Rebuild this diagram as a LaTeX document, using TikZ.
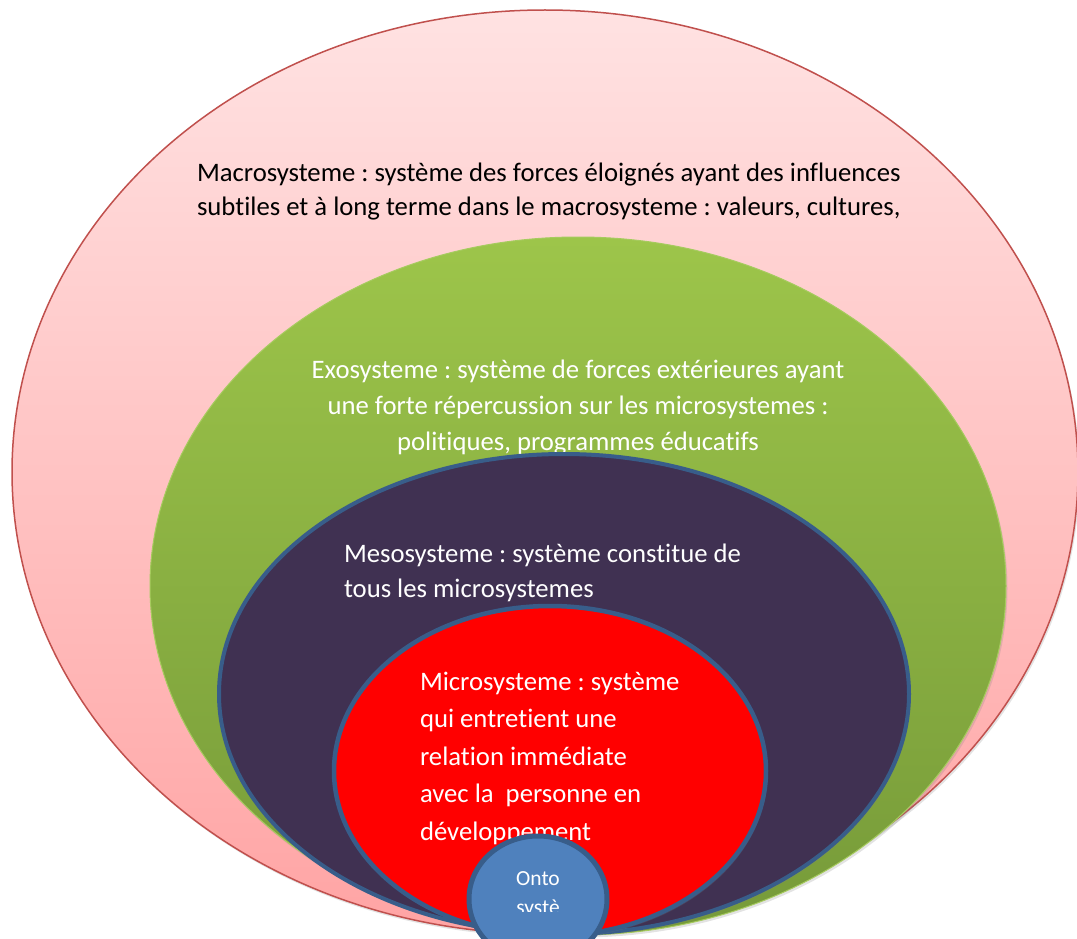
\documentclass[tikz,border=0pt]{standalone}
\usepackage{fontspec}
\setmainfont{Carlito}[Ligatures=CommonOff]
\frenchspacing
\usetikzlibrary{shapes.geometric,shadows}
\definecolor{macroTop}{HTML}{FFE2E2}
\definecolor{macroBot}{HTML}{FFA4A4}
\definecolor{macroLine}{HTML}{C0504D}
\definecolor{exoTop}{HTML}{9DC54A}
\definecolor{exoBot}{HTML}{769A39}
\definecolor{exoLine}{HTML}{A6CB5E}
\definecolor{mesoFill}{HTML}{403152}
\definecolor{blueLine}{HTML}{385D8A}
\definecolor{ontoFill}{HTML}{4F81BD}
\tikzset{
  ring/.style={ellipse, inner sep=0pt, outer sep=0pt},
  softshadow/.style={drop shadow={opacity=0.22, shadow xshift=1.5pt, shadow yshift=-2.5pt}},
  blocktext/.style={inner sep=0pt, outer sep=0pt},
}
\begin{document}
\begin{tikzpicture}[x=1pt,y=-1pt]
\useasboundingbox (0,0) rectangle (1077,939);
\clip (0,0) rectangle (1077,939);
% Macrosysteme
\node[ring, softshadow, draw=macroLine, line width=1.5pt, top color=macroTop, bottom color=macroBot,
      minimum width=1066pt, minimum height=924pt] (macro) at (545,472) {};
\node[blocktext, anchor=base west, font=\fontsize{26.7}{33.5}\selectfont] (macrotext) at (197,182)
  {\begin{tabular}[t]{@{}l@{}}Macrosysteme : système des forces éloignés ayant des influences\\
   subtiles et à long terme dans le macrosysteme : valeurs, cultures,\end{tabular}};
% Exosysteme
\node[ring, softshadow, draw=exoLine, line width=1pt, top color=exoTop, bottom color=exoBot,
      minimum width=856pt, minimum height=698pt] (exo) at (578,586) {};
\node[blocktext, anchor=base, text=white, font=\fontsize{26.7}{36}\selectfont] (exotext) at (578,378)
  {\begin{tabular}[t]{@{}c@{}}Exosysteme : système de forces extérieures ayant\\
   une forte répercussion sur les microsystemes :\\
   politiques, programmes éducatifs\end{tabular}};
% Mesosysteme
\node[ring, softshadow, draw=blueLine, line width=4pt, fill=mesoFill,
      minimum width=690pt, minimum height=480pt] (meso) at (564,694) {};
\node[blocktext, anchor=base west, text=white, font=\fontsize{26.7}{35}\selectfont] (mesotext) at (344,562)
  {\begin{tabular}[t]{@{}l@{}}Mesosysteme : système constitue de\\
   tous les microsystemes\end{tabular}};
% Microsysteme
\node[ring, softshadow, draw=blueLine, line width=4.5pt, fill=red,
      minimum width=432pt, minimum height=330pt] (micro) at (550,771) {};
\node[blocktext, anchor=base west, text=white, font=\fontsize{26.7}{37.5}\selectfont] (microtext) at (420,690)
  {\begin{tabular}[t]{@{}l@{}}Microsysteme : système\\
   qui entretient une\\
   relation immédiate\\
   avec la\ \ personne en\\
   développement\end{tabular}};
% Ontosysteme
\node[ring, draw=blueLine, line width=5pt, fill=ontoFill,
      minimum width=138pt, minimum height=126pt] (onto) at (538,899) {};
\begin{scope}
  \clip (470,850) rectangle (606,911);
  \node[blocktext, anchor=base, text=white, font=\fontsize{21.5}{29}\selectfont] (ontotext) at (538,885)
    {\begin{tabular}[t]{@{}c@{}}Onto\\ systè\end{tabular}};
\end{scope}
\end{tikzpicture}
\end{document}
